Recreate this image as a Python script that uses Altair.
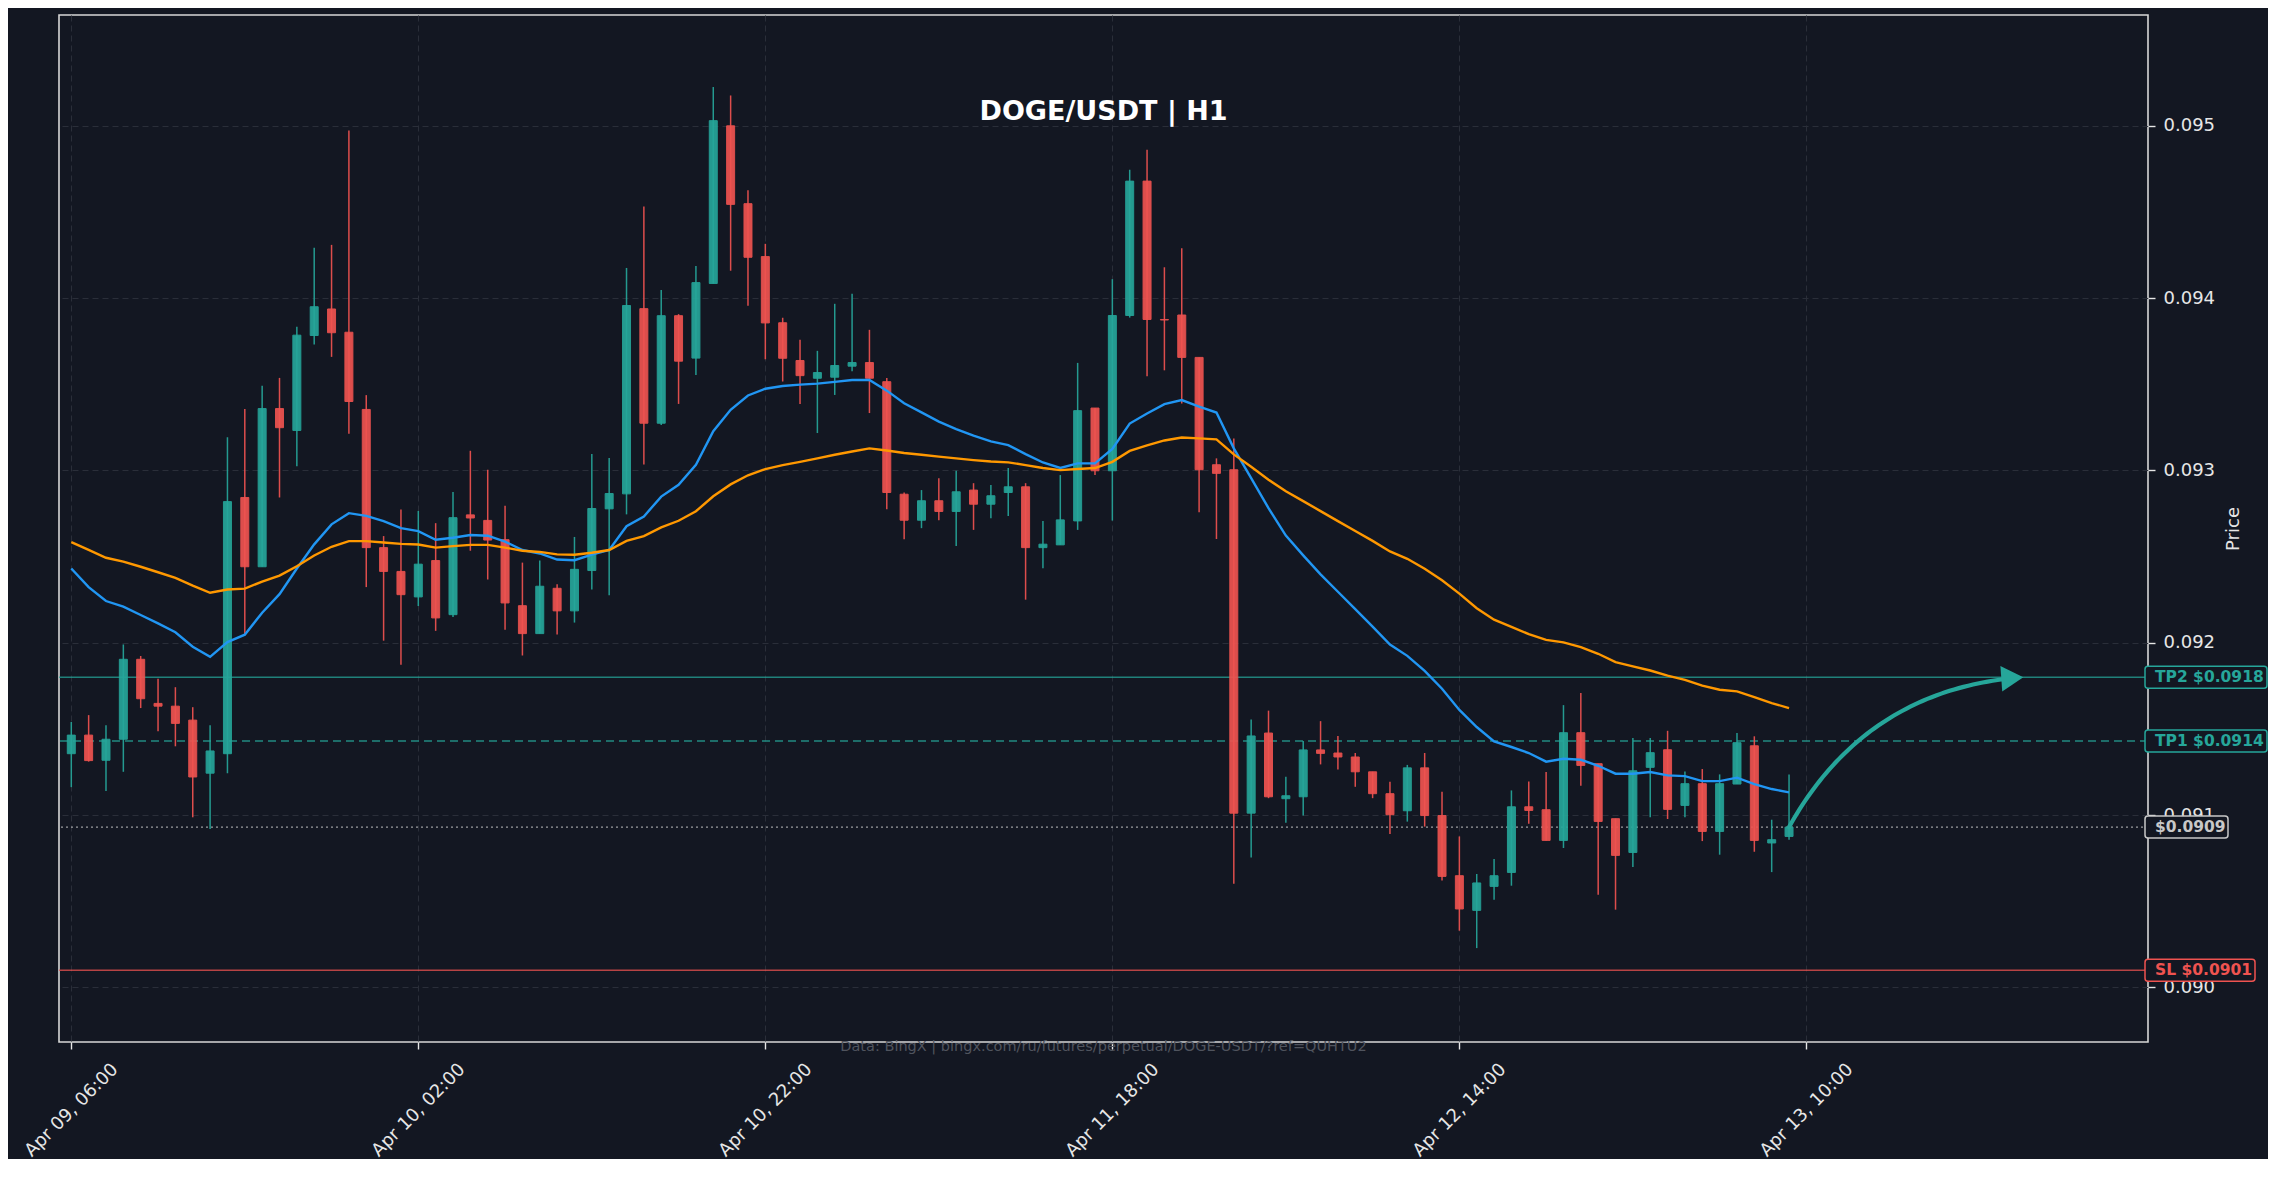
import json
import math
import altair as alt
import pandas as pd

# ------------------------------------------------------------------ data
opens = [0.091356, 0.091464, 0.091318, 0.091440, 0.091904, 0.091648, 0.091632, 0.091551, 0.091243, 0.091356,
         0.092843, 0.092441, 0.093359, 0.093232, 0.093783, 0.093937, 0.093802, 0.093354, 0.092552, 0.092414,
         0.092266, 0.092477, 0.092163, 0.092742, 0.092710, 0.092598, 0.092215, 0.092053, 0.092316, 0.092185,
         0.092419, 0.092777, 0.092864, 0.093939, 0.093274, 0.093898, 0.093652, 0.094085, 0.095000, 0.094548,
         0.094241, 0.093857, 0.093638, 0.093535, 0.093541, 0.093605, 0.093626, 0.093515, 0.092862, 0.092711,
         0.092824, 0.092762, 0.092886, 0.092804, 0.092872, 0.092905, 0.092552, 0.092568, 0.092707, 0.093362,
         0.092998, 0.093899, 0.094679, 0.093876, 0.093902, 0.093656, 0.093033, 0.093004, 0.091011, 0.091476,
         0.091095, 0.091106, 0.091378, 0.091360, 0.091337, 0.091251, 0.091124, 0.091025, 0.091274, 0.090997,
         0.090648, 0.090447, 0.090586, 0.090667, 0.091048, 0.091031, 0.090853, 0.091478, 0.091298, 0.090979,
         0.090783, 0.091277, 0.091379, 0.091056, 0.091182, 0.090905, 0.091180, 0.091402, 0.090838, 0.090876]

closes = [0.091464, 0.091316, 0.091440, 0.091904, 0.091675, 0.091632, 0.091532, 0.091221, 0.091372, 0.092819,
          0.092441, 0.093359, 0.093248, 0.093785, 0.093950, 0.093799, 0.093400, 0.092552, 0.092414, 0.092279,
          0.092456, 0.092144, 0.092726, 0.092724, 0.092596, 0.092231, 0.092053, 0.092328, 0.092185, 0.092426,
          0.092779, 0.092866, 0.093957, 0.093274, 0.093898, 0.093634, 0.094090, 0.095030, 0.094544, 0.094237,
          0.093856, 0.093651, 0.093550, 0.093568, 0.093609, 0.093626, 0.093535, 0.092872, 0.092711, 0.092824,
          0.092762, 0.092876, 0.092804, 0.092853, 0.092905, 0.092552, 0.092572, 0.092713, 0.093347, 0.092998,
          0.093899, 0.094679, 0.093876, 0.093873, 0.093656, 0.093004, 0.092983, 0.091011, 0.091459, 0.091106,
          0.091112, 0.091378, 0.091358, 0.091337, 0.091251, 0.091124, 0.091002, 0.091274, 0.090997, 0.090644,
          0.090455, 0.090606, 0.090648, 0.091048, 0.091027, 0.090853, 0.091478, 0.091288, 0.090963, 0.090766,
          0.091257, 0.091362, 0.091033, 0.091182, 0.090905, 0.091182, 0.091420, 0.090853, 0.090857, 0.090930]

highs = [0.091540, 0.091580, 0.091521, 0.091990, 0.091923, 0.091791, 0.091742, 0.091626, 0.091521, 0.093192,
         0.093356, 0.093491, 0.093537, 0.093834, 0.094293, 0.094309, 0.094973, 0.093437, 0.092619, 0.092773,
         0.092765, 0.092694, 0.092875, 0.093114, 0.093004, 0.092795, 0.092465, 0.092477, 0.092339, 0.092614,
         0.093095, 0.093072, 0.094175, 0.094532, 0.094047, 0.093907, 0.094186, 0.095225, 0.095176, 0.094626,
         0.094315, 0.093886, 0.093758, 0.093694, 0.093967, 0.094025, 0.093816, 0.093537, 0.092872, 0.092886,
         0.092955, 0.092998, 0.092926, 0.092915, 0.093014, 0.092926, 0.092707, 0.092973, 0.093624, 0.093362,
         0.094110, 0.094745, 0.094861, 0.094179, 0.094289, 0.093656, 0.093070, 0.093186, 0.091554, 0.091606,
         0.091222, 0.091430, 0.091545, 0.091459, 0.091360, 0.091251, 0.091193, 0.091291, 0.091360, 0.091135,
         0.090876, 0.090658, 0.090745, 0.091143, 0.091195, 0.091250, 0.091638, 0.091708, 0.091298, 0.090979,
         0.091447, 0.091447, 0.091489, 0.091253, 0.091267, 0.091236, 0.091476, 0.091457, 0.090973, 0.091236]

lows = [0.091162, 0.091310, 0.091140, 0.091251, 0.091621, 0.091486, 0.091399, 0.090987, 0.090919, 0.091243,
        0.092044, 0.092441, 0.092843, 0.093024, 0.093731, 0.093659, 0.093213, 0.092323, 0.092012, 0.091872,
        0.092213, 0.092069, 0.092149, 0.092534, 0.092367, 0.092075, 0.091926, 0.092053, 0.092048, 0.092117,
        0.092309, 0.092275, 0.092745, 0.093034, 0.093263, 0.093386, 0.093554, 0.094085, 0.094159, 0.093955,
        0.093645, 0.093516, 0.093386, 0.093217, 0.093438, 0.093576, 0.093333, 0.092775, 0.092601, 0.092665,
        0.092711, 0.092562, 0.092655, 0.092723, 0.092736, 0.092250, 0.092432, 0.092568, 0.092655, 0.092973,
        0.092709, 0.093887, 0.093547, 0.093581, 0.093388, 0.092758, 0.092602, 0.090601, 0.090754, 0.091098,
        0.090956, 0.090997, 0.091294, 0.091265, 0.091164, 0.091098, 0.090890, 0.090962, 0.090933, 0.090620,
        0.090329, 0.090228, 0.090509, 0.090590, 0.090950, 0.090853, 0.090809, 0.091170, 0.090538, 0.090451,
        0.090698, 0.090988, 0.090977, 0.090988, 0.090849, 0.090770, 0.091180, 0.090787, 0.090669, 0.090857]

ma_fast = [0.092431, 0.092323, 0.092242, 0.092209, 0.092161, 0.092112, 0.092061, 0.091977, 0.091918, 0.092004,
           0.092047, 0.092174, 0.092282, 0.092431, 0.092571, 0.092687, 0.092752, 0.092736, 0.092706, 0.092665,
           0.092648, 0.092598, 0.092609, 0.092625, 0.092621, 0.092587, 0.092538, 0.092518, 0.092483, 0.092479,
           0.092511, 0.092538, 0.092676, 0.092733, 0.092848, 0.092917, 0.093033, 0.093228, 0.093352, 0.093435,
           0.093474, 0.093490, 0.093498, 0.093504, 0.093514, 0.093525, 0.093525, 0.093463, 0.093390, 0.093337,
           0.093283, 0.093240, 0.093202, 0.093169, 0.093147, 0.093095, 0.093046, 0.093014, 0.093041, 0.093041,
           0.093125, 0.093272, 0.093330, 0.093385, 0.093408, 0.093370, 0.093336, 0.093128, 0.092955, 0.092781,
           0.092622, 0.092507, 0.092397, 0.092296, 0.092195, 0.092094, 0.091990, 0.091924, 0.091837, 0.091733,
           0.091610, 0.091511, 0.091428, 0.091395, 0.091360, 0.091310, 0.091327, 0.091321, 0.091286, 0.091240,
           0.091240, 0.091250, 0.091230, 0.091226, 0.091197, 0.091197, 0.091217, 0.091180, 0.091151, 0.091132]

ma_slow = [0.092584, 0.092539, 0.092493, 0.092471, 0.092441, 0.092409, 0.092376, 0.092331, 0.092290, 0.092309,
           0.092314, 0.092355, 0.092390, 0.092444, 0.092506, 0.092557, 0.092590, 0.092590, 0.092582, 0.092574,
           0.092570, 0.092552, 0.092561, 0.092568, 0.092568, 0.092552, 0.092534, 0.092527, 0.092513, 0.092511,
           0.092522, 0.092538, 0.092591, 0.092619, 0.092669, 0.092708, 0.092763, 0.092850, 0.092919, 0.092972,
           0.093008, 0.093031, 0.093050, 0.093070, 0.093091, 0.093110, 0.093128, 0.093116, 0.093101, 0.093091,
           0.093080, 0.093070, 0.093060, 0.093052, 0.093047, 0.093031, 0.093014, 0.093002, 0.093008, 0.093014,
           0.093050, 0.093113, 0.093145, 0.093174, 0.093191, 0.093186, 0.093180, 0.093093, 0.093021, 0.092946,
           0.092879, 0.092822, 0.092764, 0.092706, 0.092648, 0.092591, 0.092530, 0.092487, 0.092429, 0.092363,
           0.092285, 0.092200, 0.092134, 0.092092, 0.092050, 0.092017, 0.092002, 0.091975, 0.091936, 0.091888,
           0.091863, 0.091839, 0.091809, 0.091785, 0.091751, 0.091727, 0.091718, 0.091685, 0.091650, 0.091621]

x_tick_values = [0, 20, 40, 60, 80, 100]
x_tick_labels = ["Apr 09, 06:00", "Apr 10, 02:00", "Apr 10, 22:00",
                 "Apr 11, 18:00", "Apr 12, 14:00", "Apr 13, 10:00"]
y_tick_values = [0.090, 0.091, 0.092, 0.093, 0.094, 0.095]

chart_title = "DOGE/USDT | H1"
source_note = "Data: BingX | bingx.com/ru/futures/perpetual/DOGE-USDT/?ref=QUHTU2"
level_prices = [0.0918, 0.09143, 0.09093, 0.0901]
level_texts = ["TP2 $0.0918", "TP1 $0.0914", "$0.0909", "SL $0.0901"]
arrow_target_hour = 112.5

# ------------------------------------------------------------------ styles
BG = "#131722"
UP = "#26a69a"
DOWN = "#ef5350"
FAST = "#2196f3"
SLOW = "#ff9800"
FG = "#e6e6e6"
FONT = "DejaVu Sans"
W, H = 2089, 1027
X_DOMAIN = [-0.42, 119.4]
Y_DOMAIN = [0.089683, 0.095643]

level_styles = [
    dict(color=UP, dash=[1, 0], width=1.5, opacity=0.75, box_right=2208),
    dict(color=UP, dash=[8, 5], width=1.5, opacity=0.8, box_right=2208),
    dict(color="#c8c8c8", dash=[2, 3], width=1.3, opacity=0.75, box_right=2169),
    dict(color=DOWN, dash=[1, 0], width=1.5, opacity=0.75, box_right=2196),
]

# ------------------------------------------------------------------ frames
n = len(opens)
candles = pd.DataFrame({"t": list(range(n)), "open": opens, "high": highs,
                        "low": lows, "close": closes})
candles["dir"] = ["up" if c >= o else "down" for o, c in zip(opens, closes)]
mas = pd.DataFrame({"t": list(range(n)), "fast": ma_fast, "slow": ma_slow})

x_scale = alt.Scale(domain=X_DOMAIN, nice=False, zero=False)
y_scale = alt.Scale(domain=Y_DOMAIN, nice=False, zero=False)

label_expr = " : ".join(
    f"datum.value == {v} ? {json.dumps(s)}" for v, s in zip(x_tick_values, x_tick_labels)
) + " : ''"

x_axis = alt.Axis(values=x_tick_values, labelExpr=label_expr, labelAngle=315,
                  labelAlign="center", labelBaseline="middle", labelPadding=61,
                  title=None, grid=True, domain=False, labelOverlap=False,
                  labelFlush=False)
y_axis = alt.Axis(orient="right", values=y_tick_values, format=".3f", title="Price",
                  titleAngle=270, titlePadding=28, labelPadding=8, grid=True,
                  domain=False, labelFlush=False, labelOverlap=False)


def X(field):
    return alt.X(f"{field}:Q", scale=x_scale, axis=x_axis)


def Y(field):
    return alt.Y(f"{field}:Q", scale=y_scale, axis=y_axis)


dir_scale = alt.Scale(domain=["up", "down"], range=[UP, DOWN])

layers = []

# level lines
for price, st in zip(level_prices, level_styles):
    layers.append(
        alt.Chart(pd.DataFrame({"price": [price]})).mark_rule(
            color=st["color"], strokeWidth=st["width"], strokeDash=st["dash"],
            opacity=st["opacity"]
        ).encode(y=Y("price"))
    )

# wicks
layers.append(
    alt.Chart(candles).mark_rule(strokeWidth=1.5, opacity=0.92).encode(
        x=X("t"), y=Y("low"), y2="high:Q",
        color=alt.Color("dir:N", scale=dir_scale, legend=None))
)
# bodies
layers.append(
    alt.Chart(candles).mark_bar(size=8, strokeWidth=1, opacity=0.92).encode(
        x=X("t"), y=Y("open"), y2="close:Q",
        color=alt.Color("dir:N", scale=dir_scale, legend=None),
        stroke=alt.Stroke("dir:N", scale=dir_scale, legend=None))
)

# moving averages
layers.append(alt.Chart(mas).mark_line(color=FAST, strokeWidth=2.4).encode(x=X("t"), y=Y("fast")))
layers.append(alt.Chart(mas).mark_line(color=SLOW, strokeWidth=2.4).encode(x=X("t"), y=Y("slow")))

# curved arrow from the last candle to TP2
sx = W / (X_DOMAIN[1] - X_DOMAIN[0])
sy = H / (Y_DOMAIN[1] - Y_DOMAIN[0])
u0, v0 = (n - 1) * sx, level_prices[2] * sy
u2, v2 = arrow_target_hour * sx, level_prices[0] * sy
du, dv = u2 - u0, v2 - v0
bend = -0.27
uc = (u0 + u2) / 2 + bend * dv
vc = (v0 + v2) / 2 - bend * du
head_size = 650
r = math.sqrt(head_size) / 2
hh = r * math.sqrt(3) / 2
pts = []
steps = 60
for k in range(steps + 1):
    s = k / steps
    u = (1 - s) ** 2 * u0 + 2 * (1 - s) * s * uc + s ** 2 * u2
    v = (1 - s) ** 2 * v0 + 2 * (1 - s) * s * vc + s ** 2 * v2
    if math.hypot(u2 - u, v2 - v) < 2 * hh - 4:
        break
    pts.append((k, u / sx, v / sy))
arrow_df = pd.DataFrame(pts, columns=["order", "t", "p"])
layers.append(
    alt.Chart(arrow_df).mark_line(color=UP, strokeWidth=4.2, strokeCap="round").encode(
        x=X("t"), y=Y("p"), order="order:Q")
)
dlen = math.hypot(u2 - uc, v2 - vc)
dir_u, dir_v = (u2 - uc) / dlen, (v2 - vc) / dlen
theta = math.degrees(math.atan2(dir_v, dir_u))
head_angle = (-theta) % 360
head_df = pd.DataFrame({"t": [(u2 - hh * dir_u) / sx], "p": [(v2 - hh * dir_v) / sy]})
layers.append(
    alt.Chart(head_df).mark_point(shape="triangle-right", filled=True, size=head_size,
                                  angle=head_angle, color=UP, opacity=1).encode(
        x=X("t"), y=Y("p"))
)

# title and data note
layers.append(
    alt.Chart(pd.DataFrame({"label": [chart_title]})).mark_text(
        font=FONT, fontSize=27, fontWeight="bold", color="#ffffff",
        align="center", baseline="middle").encode(
        x=alt.value(W / 2), y=alt.value(97), text="label:N")
)
layers.append(
    alt.Chart(pd.DataFrame({"label": [source_note]})).mark_text(
        font=FONT, fontSize=14.5, color="#50545e",
        align="center", baseline="middle").encode(
        x=alt.value(W / 2), y=alt.value(1032), text="label:N")
)

# level tags on the right
for price, txt, st in zip(level_prices, level_texts, level_styles):
    df = pd.DataFrame({"price": [price], "text": [txt]})
    layers.append(
        alt.Chart(df).mark_rect(fill=BG, stroke=st["color"], strokeWidth=1.5,
                                cornerRadius=3, yOffset=-11, y2Offset=11).encode(
            x=alt.value(2086), x2=alt.value(st["box_right"]),
            y=Y("price"), y2="price:Q")
    )
    layers.append(
        alt.Chart(df).mark_text(font=FONT, fontSize=15.5, fontWeight="bold",
                                color=st["color"], align="left", baseline="middle").encode(
            x=alt.value(2096), y=Y("price"), text="text:N")
    )

chart = alt.layer(*layers).properties(
    width=W, height=H, background=BG,
    padding={"left": 51, "top": 7, "right": 120, "bottom": 117},
    autosize=alt.AutoSizeParams(type="none"),
).configure_view(
    stroke="#d8d8d8", strokeWidth=1.6, fill=BG
).configure_axis(
    labelColor=FG, labelFont=FONT, labelFontSize=18,
    tickColor=FG, tickSize=7, tickWidth=1.4,
    titleColor=FG, titleFont=FONT, titleFontSize=18, titleFontWeight="normal",
    gridColor="#2a2e39", gridDash=[6, 4], gridWidth=1,
)

chart.save("out.html", embed_options={"renderer": "svg", "actions": False})
